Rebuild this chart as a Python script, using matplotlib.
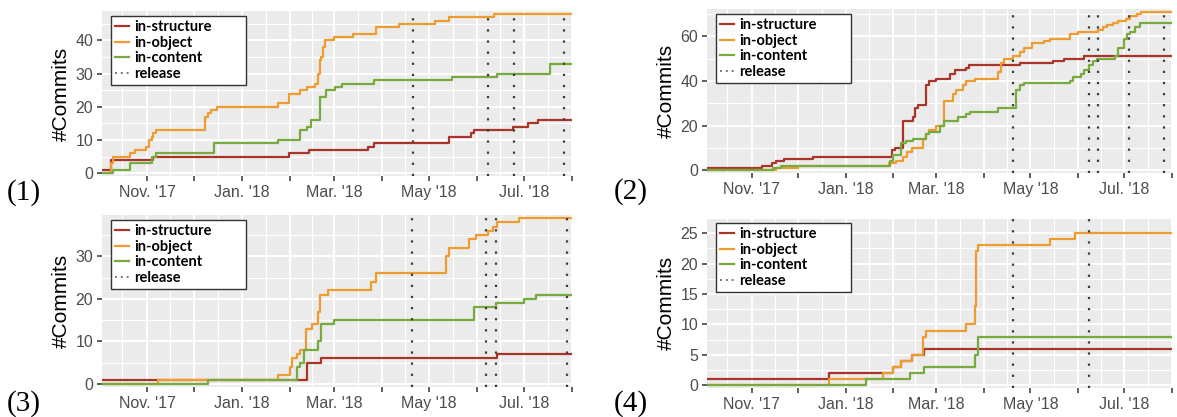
import matplotlib
matplotlib.use("Agg")
import matplotlib.pyplot as plt
from matplotlib.lines import Line2D
from matplotlib.font_manager import FontProperties
import pandas as pd

# shared time axis
START, END = "2017-10-03", "2018-08-01"
month_ticks = ["2017-11-01", "2017-12-01", "2018-01-01", "2018-02-01", "2018-03-01",
               "2018-04-01", "2018-05-01", "2018-06-01", "2018-07-01", "2018-08-01"]
month_labels = ["Nov. '17", "", "Jan. '18", "", "Mar. '18", "", "May '18", "", "Jul. '18", ""]
series_names = ["in-structure", "in-object", "in-content", "release"]

# (1) cumulative commits, (date of change, new count)
p1_structure = [("2017-10-03", 1), ("2017-10-09", 4), ("2017-11-05", 5), ("2018-01-31", 6),
                ("2018-02-13", 7), ("2018-03-23", 8), ("2018-03-27", 9), ("2018-05-14", 11),
                ("2018-05-28", 12), ("2018-05-30", 13), ("2018-06-24", 14), ("2018-07-04", 15),
                ("2018-07-10", 16)]
p1_object = [("2017-10-03", 0), ("2017-10-09", 3), ("2017-10-10", 5), ("2017-10-21", 6),
             ("2017-10-24", 7), ("2017-10-31", 8), ("2017-11-02", 10), ("2017-11-04", 11),
             ("2017-11-05", 12), ("2017-11-07", 13), ("2017-12-08", 17), ("2017-12-10", 18),
             ("2017-12-12", 19), ("2017-12-16", 20), ("2018-01-24", 21), ("2018-01-31", 24),
             ("2018-02-07", 25), ("2018-02-12", 26), ("2018-02-17", 27), ("2018-02-19", 30),
             ("2018-02-20", 34), ("2018-02-21", 35), ("2018-02-22", 38), ("2018-02-23", 40),
             ("2018-03-01", 41), ("2018-03-13", 42), ("2018-03-28", 44), ("2018-04-12", 45),
             ("2018-05-05", 46), ("2018-05-14", 47), ("2018-06-12", 48)]
p1_content = [("2017-10-03", 0), ("2017-10-10", 1), ("2017-10-21", 3), ("2017-11-04", 5),
              ("2017-11-07", 6), ("2017-12-14", 9), ("2018-01-24", 10), ("2018-02-07", 13),
              ("2018-02-12", 14), ("2018-02-14", 16), ("2018-02-20", 23), ("2018-02-24", 25),
              ("2018-03-02", 26), ("2018-03-06", 27), ("2018-03-27", 28), ("2018-05-16", 29),
              ("2018-06-14", 30), ("2018-07-18", 33)]
p1_release = ["2018-04-21", "2018-06-08", "2018-06-25", "2018-07-27"]

# (2)
p2_structure = [("2017-10-03", 1), ("2017-11-08", 2), ("2017-11-14", 3), ("2017-11-17", 4),
                ("2017-11-22", 5), ("2017-12-11", 6), ("2018-01-31", 9), ("2018-02-02", 10),
                ("2018-02-07", 22), ("2018-02-14", 24), ("2018-02-15", 28), ("2018-02-17", 29),
                ("2018-02-22", 38), ("2018-02-24", 40), ("2018-03-01", 41), ("2018-03-10", 43),
                ("2018-03-13", 45), ("2018-03-20", 46), ("2018-03-22", 47), ("2018-04-24", 48),
                ("2018-05-16", 49), ("2018-05-23", 50), ("2018-06-05", 51)]
p2_object = [("2017-10-03", 0), ("2017-11-17", 1), ("2017-12-01", 2), ("2018-01-29", 3),
             ("2018-02-03", 4), ("2018-02-07", 6), ("2018-02-10", 8), ("2018-02-13", 10),
             ("2018-02-20", 14), ("2018-02-22", 16), ("2018-02-24", 18), ("2018-03-01", 20),
             ("2018-03-06", 31), ("2018-03-12", 34), ("2018-03-14", 36), ("2018-03-18", 38),
             ("2018-03-20", 40), ("2018-03-26", 41), ("2018-04-10", 44), ("2018-04-12", 48),
             ("2018-04-14", 50), ("2018-04-20", 51), ("2018-04-24", 53), ("2018-04-27", 55),
             ("2018-05-02", 57), ("2018-05-10", 58), ("2018-05-14", 59), ("2018-05-27", 61),
             ("2018-06-01", 62), ("2018-06-14", 63), ("2018-06-17", 64), ("2018-06-20", 65),
             ("2018-06-24", 66), ("2018-06-27", 67), ("2018-07-02", 68), ("2018-07-05", 69),
             ("2018-07-09", 70), ("2018-07-12", 71)]
p2_content = [("2017-10-03", 0), ("2017-11-15", 1), ("2017-11-20", 2), ("2018-01-30", 4),
              ("2018-02-01", 7), ("2018-02-06", 12), ("2018-02-09", 13), ("2018-02-14", 14),
              ("2018-02-22", 16), ("2018-02-24", 17), ("2018-03-03", 20), ("2018-03-06", 22),
              ("2018-03-15", 24), ("2018-03-20", 25), ("2018-03-23", 26), ("2018-04-10", 28),
              ("2018-04-22", 36), ("2018-04-24", 38), ("2018-04-27", 39), ("2018-05-27", 40),
              ("2018-05-29", 42), ("2018-06-03", 43), ("2018-06-05", 45), ("2018-06-08", 47),
              ("2018-06-11", 49), ("2018-06-13", 50), ("2018-06-25", 51), ("2018-06-27", 55),
              ("2018-07-01", 59), ("2018-07-03", 61), ("2018-07-05", 62), ("2018-07-08", 64),
              ("2018-07-11", 66)]
p2_release = ["2018-04-20", "2018-06-08", "2018-06-14", "2018-07-04", "2018-07-27"]

# (3)
p3_structure = [("2017-10-03", 1), ("2018-02-12", 5), ("2018-02-21", 6), ("2018-06-14", 7)]
p3_object = [("2017-10-03", 0), ("2017-11-08", 1), ("2018-01-24", 2), ("2018-02-01", 4),
             ("2018-02-02", 6), ("2018-02-05", 7), ("2018-02-07", 8), ("2018-02-11", 13),
             ("2018-02-15", 14), ("2018-02-19", 17), ("2018-02-20", 21), ("2018-02-25", 22),
             ("2018-03-25", 24), ("2018-03-28", 26), ("2018-05-12", 30), ("2018-05-14", 32),
             ("2018-05-27", 34), ("2018-05-31", 35), ("2018-06-08", 36), ("2018-06-11", 37),
             ("2018-06-14", 38), ("2018-06-28", 39)]
p3_content = [("2017-10-03", 0), ("2017-12-10", 1), ("2018-02-05", 4), ("2018-02-07", 5),
              ("2018-02-10", 8), ("2018-02-19", 10), ("2018-02-21", 14), ("2018-03-01", 15),
              ("2018-05-30", 18), ("2018-06-13", 19), ("2018-07-01", 20), ("2018-07-09", 21)]
p3_release = ["2018-04-20", "2018-06-07", "2018-06-13", "2018-07-29"]

# (4)
p4_structure = [("2017-10-03", 1), ("2017-12-21", 2), ("2018-02-01", 3), ("2018-02-06", 4),
                ("2018-02-13", 5), ("2018-02-21", 6)]
p4_object = [("2017-10-03", 0), ("2017-12-21", 1), ("2018-01-25", 2), ("2018-02-01", 3),
             ("2018-02-06", 4), ("2018-02-13", 5), ("2018-02-20", 8), ("2018-02-22", 9),
             ("2018-03-20", 10), ("2018-03-26", 13), ("2018-03-27", 22), ("2018-03-28", 23),
             ("2018-05-14", 24), ("2018-05-30", 25)]
p4_content = [("2017-10-03", 0), ("2018-01-14", 1), ("2018-02-12", 2), ("2018-02-21", 3),
              ("2018-03-26", 5), ("2018-03-28", 8)]
p4_release = ["2018-04-20", "2018-06-08"]

COLORS = ["#A8342A", "#EE9B30", "#78AB3E"]
REL_COLOR = "#3A3A3A"
W, H = 1177, 417

fig = plt.figure(figsize=(W / 100, H / 100), dpi=100)
plt.rcParams['font.family'] = ['Liberation Sans', 'DejaVu Sans']


def step_xy(series):
    d = pd.to_datetime([s[0] for s in series] + [END])
    v = [s[1] for s in series] + [series[-1][1]]
    return d, v


def panel(box, series, releases, yticks, tag, tag_xy):
    left, top, right, bottom = box
    ax = fig.add_axes([left / W, 1 - bottom / H, (right - left) / W, (bottom - top) / H])
    ax.set_facecolor("#EBEBEB")
    for s in ax.spines.values():
        s.set_visible(False)

    ymax = max(v for ser in series for _, v in ser)
    ax.set_ylim(-0.018 * ymax, ymax * 1.018)
    ax.set_xlim(pd.Timestamp(START), pd.Timestamp(END))

    mt = pd.to_datetime(month_ticks)
    ax.set_xticks(mt)
    ax.set_xticklabels(month_labels)
    mids = [pd.Timestamp("2017-10-16")] + [a + (b - a) / 2 for a, b in zip(mt[:-1], mt[1:])]
    ax.set_xticks(mids, minor=True)
    step = yticks[1] - yticks[0]
    ax.set_yticks(yticks)
    ax.set_yticks([t + step / 2 for t in yticks], minor=True)

    ax.grid(which="major", color="white", lw=1.4)
    ax.grid(which="minor", color="white", lw=0.8)
    ax.set_axisbelow(True)
    ax.tick_params(which="major", length=3.3, width=1.1, color="#333333",
                   labelsize=11.5, labelcolor="#4D4D4D", pad=3)
    ax.tick_params(which="minor", length=0)
    ax.set_ylabel("#Commits", fontsize=15, labelpad=3)

    for ser, c in zip(series, COLORS):
        d, v = step_xy(ser)
        ax.step(d, v, where="post", color=c, lw=1.6, zorder=3)
    for r in releases:
        ax.axvline(pd.Timestamp(r), color=REL_COLOR, lw=1.6, ls=(0, (1, 4)), zorder=4)

    handles = [Line2D([], [], color=c, lw=1.6) for c in COLORS]
    handles.append(Line2D([], [], color="#777777", lw=1.4, ls=(0, (1, 2))))
    axw, axh = right - left, bottom - top
    leg = ax.legend(handles, series_names, loc="upper left", mode="expand",
                    bbox_to_anchor=(9 / axw, 0, 135 / axw, 1 - 5 / axh),
                    prop=FontProperties(family="Lato", weight="bold", size=10.5),
                    frameon=True, fancybox=False, framealpha=1, edgecolor="#333333",
                    borderpad=0.3, labelspacing=0.1, handlelength=0.9,
                    handletextpad=0.4, borderaxespad=0)
    leg.get_frame().set_linewidth(1.0)
    leg.set_zorder(5)

    fig.text(tag_xy[0] / W, 1 - tag_xy[1] / H, tag, family="Liberation Serif",
             fontsize=21, ha="center", va="center")


panel((102, 11, 572, 176), [p1_structure, p1_object, p1_content], p1_release,
      [0, 10, 20, 30, 40], "(1)", (24, 193))
panel((707, 9, 1172, 173), [p2_structure, p2_object, p2_content], p2_release,
      [0, 20, 40, 60], "(2)", (631, 192))
panel((102, 215, 572, 387), [p3_structure, p3_object, p3_content], p3_release,
      [0, 10, 20, 30], "(3)", (24, 404))
panel((707, 218, 1172, 388), [p4_structure, p4_object, p4_content], p4_release,
      [0, 5, 10, 15, 20, 25], "(4)", (631, 404))

fig.savefig("out.png", dpi=100)
